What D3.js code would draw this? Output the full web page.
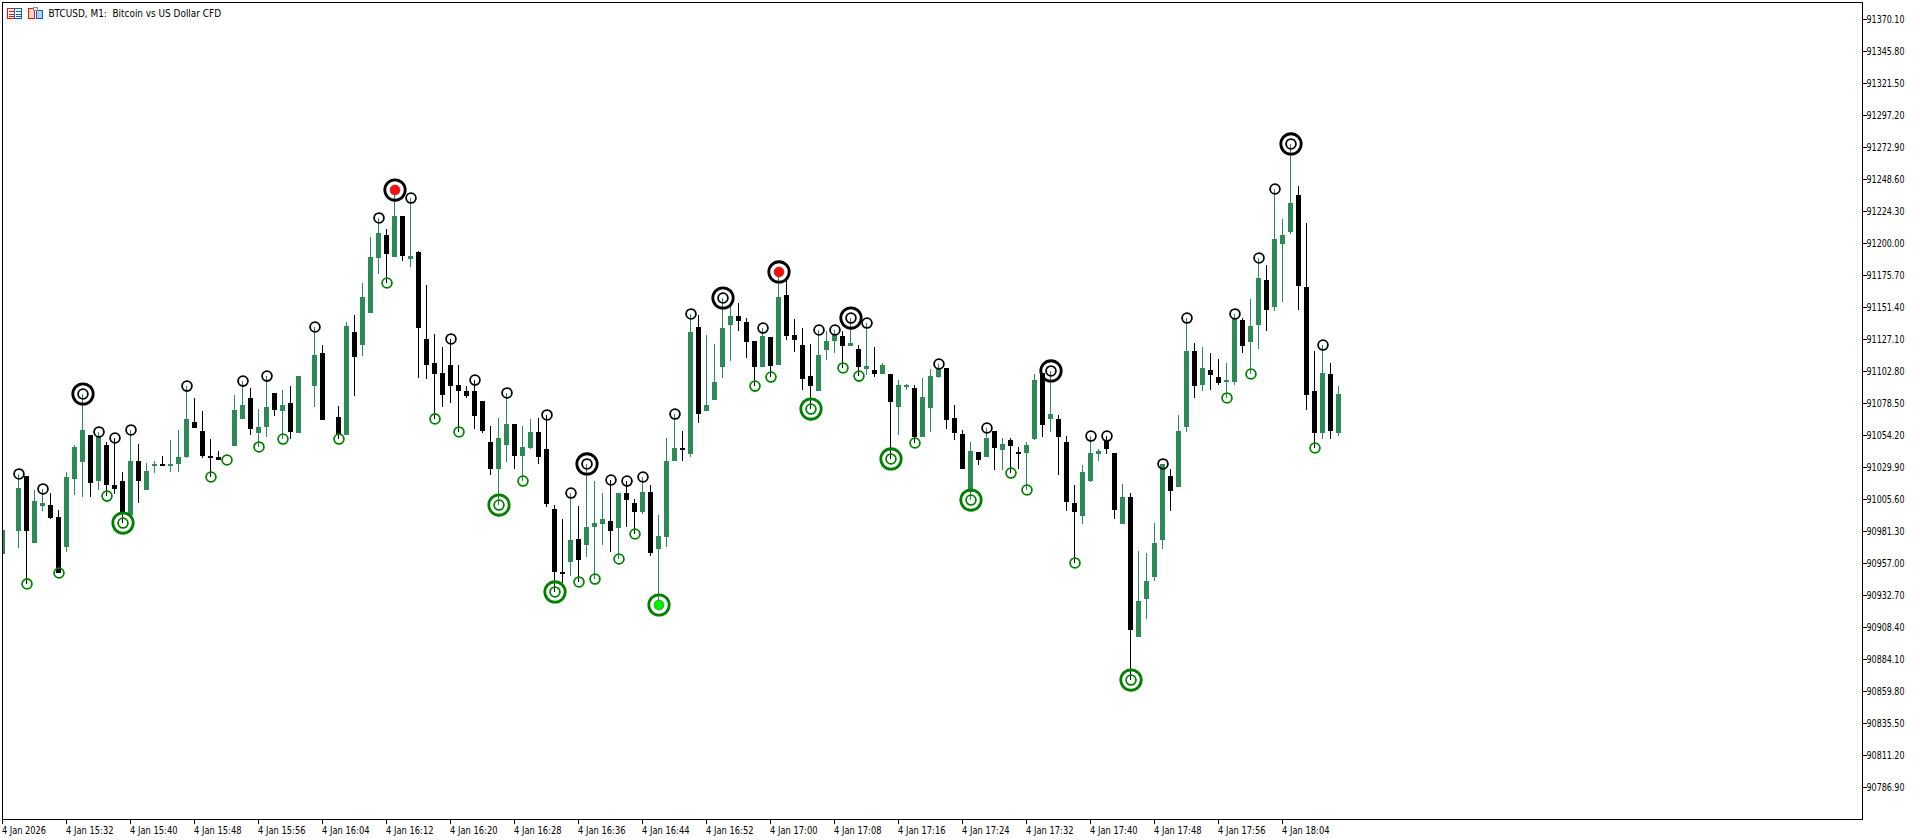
<!DOCTYPE html>
<html><head><meta charset="utf-8">
<script src="https://cdn.jsdelivr.net/npm/d3@7/dist/d3.min.js"></script>
<style>html,body{margin:0;padding:0;background:#fff;overflow:hidden}svg{display:block}
text{font-family:"DejaVu Sans",sans-serif;fill:#000}</style></head><body>
<svg id="c" width="1920" height="840"></svg>
<script>
const priceTicks=[91370.10,91345.80,91321.50,91297.20,91272.90,91248.60,91224.30,91200.00,91175.70,91151.40,91127.10,91102.80,91078.50,91054.20,91029.90,91005.60,90981.30,90957.00,90932.70,90908.40,90884.10,90859.80,90835.50,90811.20,90786.90];
const timeLabels=["4 Jan 2026","4 Jan 15:32","4 Jan 15:40","4 Jan 15:48","4 Jan 15:56","4 Jan 16:04","4 Jan 16:12","4 Jan 16:20","4 Jan 16:28","4 Jan 16:36","4 Jan 16:44","4 Jan 16:52","4 Jan 17:00","4 Jan 17:08","4 Jan 17:16","4 Jan 17:24","4 Jan 17:32","4 Jan 17:40","4 Jan 17:48","4 Jan 17:56","4 Jan 18:04"];
const opens=[
90964.2,null,90981.6,91023.4,90972.5,91000.6,91001.4,90992.3,90969.5,91021.2,
91034.1,91054.6,91019.6,91047.0,91016.6,91019.6,90993.8,91034.8,91012.8,91031.0,
91032.6,91031.0,91032.6,91037.9,91064.5,91057.6,91038.6,91037.9,null,91046.2,
91066.8,91082.7,91056.1,91060.7,91086.5,91072.8,91078.9,91056.1,null,91091.7,
91116.8,null,91068.2,91054.6,91132.8,91122.9,91147.2,91189.0,91206.5,91189.8,
91220.9,91188.3,91193.6,91127.5,91109.2,91101.6,91107.7,91092.5,91088.0,91088.0,
91080.4,91049.3,91028.8,91047.0,91063.0,91038.6,91044.7,91056.9,91044.0,90998.4,
90950.5,90958.2,90975.6,90971.0,90984.7,90987.0,90989.2,90983.9,91010.5,91002.9,
90996.1,91011.3,90968.0,90977.1,91034.8,91044.7,91040.1,91136.6,91072.8,91081.2,
91106.2,91138.1,91145.0,91140.4,91125.9,91106.2,91129.0,91107.7,91160.9,91130.5,
91122.9,91099.3,91088.0,91119.1,91125.9,91129.8,91122.2,91119.9,91104.7,91103.9,
91100.9,91100.9,91075.9,91091.0,91090.3,91053.1,91075.1,91098.6,91105.5,91067.5,
91055.3,91011.3,91041.7,91037.9,91057.6,91043.2,91050.8,91041.7,91040.9,91051.5,
91101.6,91066.8,91066.8,91049.3,91002.9,90993.1,91019.6,91040.1,91050.8,91040.9,
90987.0,91007.5,90901.2,90930.1,90946.7,90974.8,91023.4,91015.1,91060.7,91118.4,
91092.5,91103.9,91098.6,91094.8,91094.8,91141.9,91125.2,91138.1,91172.3,91151.8,
91199.6,91208.7,91236.8,91167.0,91088.0,91056.1,91100.9,91056.1];
const highs=[
90982.4,null,91025.0,91023.4,91012.8,91013.6,91010.5,90997.6,91026.5,91047.0,
91085.7,91054.6,91056.9,91049.3,91052.3,91026.5,91058.4,91047.8,91033.3,91034.8,
91038.6,91050.8,91058.4,91091.7,91082.7,91072.8,91051.5,91042.4,null,91085.0,
91095.5,91090.3,91074.3,91099.3,91086.5,91088.8,91091.7,91099.3,null,91136.6,
91122.9,null,91076.6,91140.4,91145.7,91170.0,91205.0,91219.4,91211.0,91240.6,
91220.9,91234.5,91194.3,91168.5,91131.3,91121.4,91127.5,91107.7,91091.7,91096.3,
91080.4,91061.4,91067.5,91086.5,91063.0,91061.4,91066.8,91067.5,91069.8,91001.4,
90990.8,91010.5,91000.6,91032.6,91019.6,91010.5,91020.4,91010.5,91019.6,91006.0,
91022.7,91016.6,90993.8,91052.3,91070.5,91057.6,91146.5,91145.7,91130.5,91123.7,
91158.6,91153.3,91154.8,91143.4,91125.9,91135.8,91129.0,91178.4,91173.8,91142.7,
91135.8,91123.7,91134.3,91133.5,91134.3,91133.5,91143.4,91122.9,91139.6,91121.4,
91109.2,91100.9,91096.3,91093.3,91092.5,91097.9,91104.7,91108.5,91105.5,91077.4,
91058.4,91049.3,91041.7,91059.9,91057.6,91052.3,91052.3,91045.5,91049.3,91100.9,
91101.6,91103.2,91069.8,91053.8,91016.6,91031.8,91053.8,91044.0,91053.8,91040.9,
91017.4,91010.5,90966.5,90964.9,90987.7,91032.6,91028.8,91069.8,91143.4,91124.4,
91121.4,91116.8,91112.3,91109.2,91146.5,91143.4,91157.9,91189.0,91183.7,91241.4,
91218.6,91275.6,91243.7,91215.6,91118.4,91122.9,91109.2,91091.7];
const lows=[
90964.2,null,90968.7,90941.5,90972.5,90996.8,90990.8,90949.8,90965.7,91009.0,
91007.5,91007.5,91012.8,91008.2,91009.8,90987.7,90993.8,91002.9,91012.8,91025.7,
91031.0,91026.5,91026.5,91037.1,91059.9,91037.1,91022.7,91035.6,91035.6,91046.2,
91066.8,91054.6,91045.5,91053.1,91069.0,91051.5,91051.5,91056.1,null,91075.9,
91066.0,null,91051.5,91054.6,91084.2,91114.6,91147.2,91176.9,91170.0,91189.8,
91186.7,91182.2,91097.9,91097.1,91066.8,91075.9,91078.9,91056.9,91082.7,91059.1,
91056.1,91024.2,91001.4,91034.1,91028.8,91019.6,91044.0,91032.6,90999.9,90935.4,
90942.2,90947.5,90943.0,90961.9,90945.2,90971.0,90965.7,90960.4,90984.7,90979.4,
90994.6,90962.7,90925.5,90969.5,91034.8,91034.8,91037.9,91063.7,91072.8,91081.2,
91097.9,91110.8,91133.5,91113.1,91091.7,91106.2,91098.6,91107.7,91126.7,91117.6,
91088.8,91074.3,91088.0,91111.5,91116.8,91105.5,91122.2,91099.3,91100.1,91098.6,
91100.9,91036.4,91054.6,91088.8,91048.5,91053.1,91056.9,91097.9,91059.1,91050.8,
91028.8,91005.2,91031.8,91037.9,91028.0,91028.0,91025.7,91028.8,91012.8,91050.8,
91053.1,91056.9,91024.2,90996.8,90957.4,90987.0,91018.9,91034.8,91040.1,90990.8,
90987.0,90868.5,90901.2,90914.8,90943.7,90968.0,90996.8,91015.1,91056.9,91082.7,
91088.0,91088.8,91092.5,91082.7,91092.5,91116.8,91100.9,91119.9,91133.5,91148.7,
91155.6,91207.2,91149.5,91073.6,91044.7,91051.5,91051.5,91053.8];
const closes=[
90982.4,null,91014.3,90981.6,91004.4,91002.9,90991.5,90949.8,91022.7,91045.5,
91058.4,91018.1,91053.1,91016.6,91013.6,90995.3,91034.8,91019.6,91027.2,91032.6,
91031.0,91032.6,91037.9,91066.8,91059.9,91038.6,91037.1,91035.6,null,91073.6,
91077.4,91059.1,91060.7,91075.9,91073.6,91077.4,91056.9,91099.3,null,91115.3,
91066.0,null,91054.6,91137.4,91113.8,91159.4,91189.8,91208.0,91192.1,91220.9,
91190.6,91190.6,91135.8,91107.7,91100.9,91085.0,91091.7,91088.0,91084.2,91069.0,
91057.6,91028.8,91052.3,91063.0,91038.6,91045.5,91056.9,91037.9,91002.2,90950.5,
90949.0,90974.8,90959.7,90984.7,90987.7,90990.8,90981.6,91010.5,91005.2,90996.1,
91011.3,90964.9,90977.9,91034.8,91044.7,91043.2,91132.8,91070.5,91077.4,91094.8,
91135.8,91145.0,91141.2,91125.2,91106.2,91129.8,91107.0,91159.4,91129.8,91126.7,
91097.1,91091.7,91115.3,91125.9,91131.3,91122.2,91124.4,91106.2,91107.0,91100.9,
91107.7,91079.6,91092.5,91092.5,91053.1,91083.4,91099.3,91104.7,91066.0,91056.1,
91028.8,91042.4,91035.6,91052.3,91044.7,91047.8,91046.2,91040.1,91047.0,91096.3,
91062.2,91070.5,91053.1,91003.7,90996.1,91026.5,91040.9,91042.4,91044.0,90997.6,
91007.5,90906.5,90928.5,90943.7,90972.5,91032.6,91012.1,91057.6,91118.4,91091.7,
91105.5,91100.1,91094.1,91096.3,91142.7,91122.2,91137.4,91173.8,91149.5,91203.4,
91206.5,91230.8,91167.7,91085.0,91056.1,91101.6,91057.6,91085.7];
// swing markers: index of the candle
const highSmall=[2,5,12,14,16,23,30,33,39,47,51,56,59,63,68,71,76,78,80,84,86,95,102,104,108,117,123,136,138,145,148,154,157,159,165];
const highDouble=[10,73,90,106,131,161];
const highFilled=[49,97];
const lowSmall=[3,7,13,26,28,32,35,42,48,54,57,65,72,74,77,79,94,96,105,107,114,126,128,134,153,156,164];
const lowDouble=[15,62,69,101,111,121,141];
const lowFilled=[82];
const title="BTCUSD, M1:  Bitcoin vs US Dollar CFD";

const UP="#2e8b57",DOWN="#000000",GREEN="#008000";
const L=3,T=3,R=1862,B=819;
const svg=d3.select("#c");
const x=d3.scaleLinear().domain([0,1]).range([2.5,10.5]);
const y=d3.scaleLinear().domain([91370.10,90786.90]).range([19.5,787.5]);
const ry=v=>Math.round(y(v));
const idx=d3.range(opens.length);

svg.append("defs").append("clipPath").attr("id","plot").append("rect").attr("x",L).attr("y",T).attr("width",R-L).attr("height",B-T);
const plot=svg.append("g").attr("clip-path","url(#plot)");

// candles
const drawn=idx.filter(i=>opens[i]!==null);
const col=i=>closes[i]>=opens[i]?UP:DOWN;
plot.append("g").attr("shape-rendering","crispEdges").selectAll("rect").data(drawn).join("rect")
 .attr("x",i=>x(i)-0.5).attr("width",1)
 .attr("y",i=>ry(highs[i])).attr("height",i=>Math.max(1,ry(lows[i])-ry(highs[i])))
 .attr("fill",col);
plot.append("g").attr("shape-rendering","crispEdges").selectAll("rect").data(drawn).join("rect")
 .attr("x",i=>x(i)-2.5).attr("width",5)
 .attr("y",i=>ry(Math.max(opens[i],closes[i])))
 .attr("height",i=>Math.max(1,ry(Math.min(opens[i],closes[i]))-ry(Math.max(opens[i],closes[i]))))
 .attr("fill",col);

// markers
function rings(list,src,color,r,w){
 plot.append("g").selectAll("circle").data(list).join("circle")
  .attr("cx",i=>x(i)+0.5).attr("cy",i=>y(src[i])).attr("r",r)
  .attr("fill","none").attr("stroke",color).attr("stroke-width",w);
}
function dots(list,src,color,edge){
 plot.append("g").selectAll("circle").data(list).join("circle")
  .attr("cx",i=>x(i)+0.5).attr("cy",i=>y(src[i])).attr("r",5)
  .attr("fill",color).attr("stroke",edge).attr("stroke-width",0.6);
}
rings(highSmall.concat(highDouble),highs,"#000",4.9,1.8);
rings(highDouble.concat(highFilled),highs,"#000",10.2,2.8);
dots(highFilled,highs,"#f51010","#a02020");
rings(lowSmall.concat(lowDouble),lows,GREEN,4.9,1.8);
rings(lowDouble.concat(lowFilled),lows,GREEN,10.2,2.8);
dots(lowFilled,lows,"#00f000","#0a8a0a");

// frame
svg.append("rect").attr("x",2.5).attr("y",2.5).attr("width",R-2).attr("height",B-2)
 .attr("fill","none").attr("stroke","#000").attr("stroke-width",1).attr("shape-rendering","crispEdges");

// axes
const yAxis=d3.axisRight(y).tickValues(priceTicks).tickSize(4).tickPadding(0).tickFormat(d3.format(".2f")).offset(0);
const gy=svg.append("g").attr("transform",`translate(${R+.5},0)`).call(yAxis);
const tickIdx=timeLabels.map((_,i)=>i*8);
const xAxis=d3.axisBottom(x).tickValues(tickIdx).tickSize(4).tickPadding(3).tickFormat((d,i)=>timeLabels[i]).offset(0);
const gx=svg.append("g").attr("transform",`translate(0,${B+.5})`).call(xAxis);
[gy,gx].forEach(g=>{g.select(".domain").remove();g.attr("font-family",null).attr("font-size",null);
 g.selectAll("line").attr("stroke","#000").attr("shape-rendering","crispEdges");});
gy.selectAll("text").attr("font-size",11).attr("textLength",38).attr("lengthAdjust","spacingAndGlyphs");
gx.selectAll("text").attr("font-size",11).attr("text-anchor","start").attr("dx",-0.5).attr("textLength",(d,i)=>i?47.5:44).attr("lengthAdjust","spacingAndGlyphs");

// title
svg.append("text").attr("x",48.5).attr("y",17).attr("font-size",11).attr("textLength",172.5).attr("lengthAdjust","spacingAndGlyphs").style("white-space","pre").text(title);

// header icons
const ic=svg.append("g").attr("shape-rendering","crispEdges");
ic.append("rect").attr("x",7.5).attr("y",8.5).attr("width",7).attr("height",10).attr("fill","#fff").attr("stroke","#f01010");
ic.append("rect").attr("x",14.5).attr("y",8.5).attr("width",7).attr("height",10).attr("fill","#fff").attr("stroke","#1060c0");
[11,13.5,16].forEach(v=>{
 ic.append("rect").attr("x",9).attr("y",v).attr("width",5).attr("height",1).attr("fill","#f01010");
 ic.append("rect").attr("x",16).attr("y",v).attr("width",5).attr("height",1).attr("fill","#1060c0");});
ic.append("rect").attr("x",28.5).attr("y",8.5).attr("width",6).attr("height",10).attr("fill","#fcd8c0").attr("stroke","#f01010");
ic.append("rect").attr("x",36.5).attr("y",10.5).attr("width",6).attr("height",8).attr("fill","#a8d4f0").attr("stroke","#1060c0");
ic.append("rect").attr("x",33.5).attr("y",7.5).attr("width",4).attr("height",3).attr("fill","#e8e8e8").attr("stroke","#909090");
</script></body></html>
